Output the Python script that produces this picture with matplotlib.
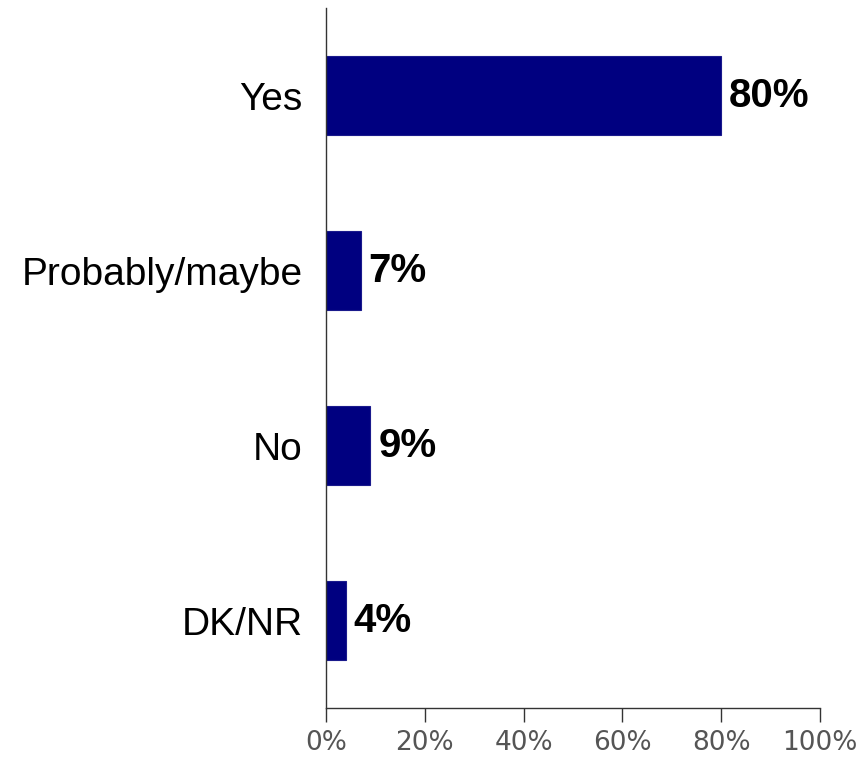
import matplotlib
matplotlib.use('Agg')
import matplotlib.pyplot as plt
from matplotlib.ticker import FuncFormatter

plt.rcParams['font.family'] = ['Liberation Sans', 'DejaVu Sans']

categories = ['Yes', 'Probably/maybe', 'No', 'DK/NR']
values = [80, 7, 9, 4]
xticks = [0, 20, 40, 60, 80, 100]

fig = plt.figure(figsize=(8.59, 7.65), dpi=100)
ax = fig.add_axes([0.3795, 0.0745, 0.5751, 0.915])

pos = list(range(len(categories)))
ax.barh(pos, values, height=0.45, color='#000080', edgecolor='#1a1a8c', linewidth=0.8)

for p, v in zip(pos, values):
    ax.text(v + 1.6, p, f'{v}%', va='center', ha='left',
            fontsize=29, fontweight='bold', color='black')

ax.set_ylim(3.5, -0.5)
ax.set_xlim(0, 100)
ax.set_yticks(pos)
ax.set_yticklabels(categories, fontsize=28)
ax.tick_params(axis='y', length=0, pad=17)

ax.set_xticks(xticks)
ax.xaxis.set_major_formatter(FuncFormatter(lambda x, _: f'{x:.0f}%'))
ax.tick_params(axis='x', direction='out', length=10, width=1, color='#333333',
               labelsize=19, labelcolor='#555555', pad=6,
               labelfontfamily='DejaVu Sans')

for s in ['top', 'right']:
    ax.spines[s].set_visible(False)
for s in ['left', 'bottom']:
    ax.spines[s].set_color('#333333')
    ax.spines[s].set_linewidth(1)

fig.savefig('out.png', dpi=100)
